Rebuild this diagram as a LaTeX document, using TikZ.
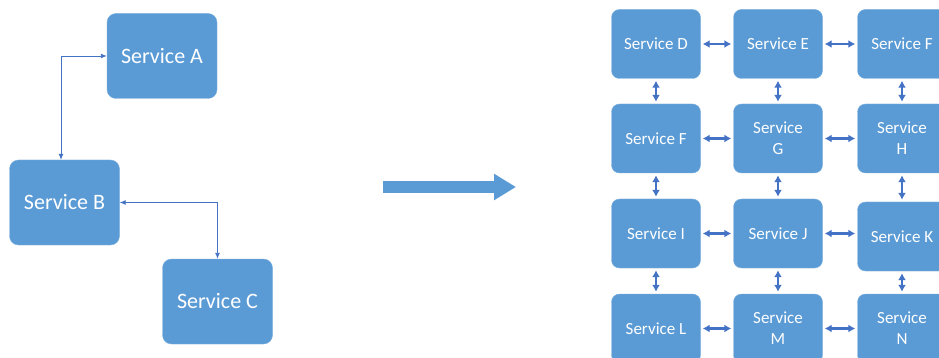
\documentclass[tikz,border=0pt]{standalone}
\usepackage{xcolor}
\usepackage{fontspec}
\setmainfont{Carlito}
\usepackage{tikz}
\usetikzlibrary{calc}
\usetikzlibrary{arrows}
\usetikzlibrary{arrows.meta}
\usetikzlibrary{positioning}
\definecolor{boxblue}{HTML}{5B9BD5}
\definecolor{linkblue}{HTML}{4472C4}
\tikzset{>=latex}
\tikzstyle{svc} = [rectangle, rounded corners=9pt, fill=boxblue, draw=boxblue!80!white, text=white, align=center, inner sep=0pt]
\tikzstyle{big} = [svc, minimum width=110pt, minimum height=85pt, font=\fontsize{22}{26}\selectfont]
\tikzstyle{small} = [svc, rounded corners=8pt, minimum width=89pt, minimum height=69pt, font=\fontsize{17}{21}\selectfont]
\tikzstyle{thin} = [{Latex[length=6pt,width=5pt]}-{Latex[length=6pt,width=5pt]}, draw=linkblue, line width=0.9pt]
\tikzstyle{thick} = [{Latex[length=7pt,width=8pt]}-{Latex[length=7pt,width=8pt]}, draw=linkblue, line width=2.4pt, shorten <=2pt, shorten >=2pt]

\begin{document}
\begin{tikzpicture}[x=1pt, y=-1pt]
\clip (0, 0) rectangle (939, 358);
\fill [white] (0, 0) rectangle (939, 358);
% before
\node [big] (A) at (162, 56) {Service A};
\node [big] (B) at (64.5, 202.5) {Service B};
\node [big] (C) at (217.5, 301.5) {Service C};
\draw [thin] ([xshift=-3.5pt]B.north) |- (A.west);
\draw [thin] (B.east) -| (C.north);
% migration
\coordinate (from) at (383, 187);
\coordinate (to) at (516, 187);
\draw [-{Triangle[length=22pt,width=25pt]}, line width=12pt, draw=boxblue] (from) -- (to);
% after
\node [small] (D) at (656, 44) {Service D};
\node [small] (E) at (778, 44) {Service E};
\node [small] (F) at (902, 44) {Service F};
\node [small] (F2) at (656, 138.5) {Service F};
\node [small] (G) at (778, 138.5) {Service\\G};
\node [small] (H) at (902, 138.5) {Service\\H};
\node [small] (I) at (656, 233.5) {Service I};
\node [small] (J) at (778, 233.5) {Service J};
\node [small] (K) at (902, 236.5) {Service K};
\node [small] (L) at (656, 328.5) {Service L};
\node [small] (M) at (778, 328.5) {Service\\M};
\node [small] (N) at (902, 328.5) {Service\\N};
\draw [thick] (D) -- (E);
\draw [thick] (E) -- (F);
\draw [thick] (F2) -- (G);
\draw [thick] (G) -- (H);
\draw [thick] (I) -- (J);
\draw [thick] (J.east) -- (J.east -| K.west);
\draw [thick] (L) -- (M);
\draw [thick] (M) -- (N);
\draw [thick] (D) -- (F2);
\draw [thick] (E) -- (G);
\draw [thick] (F) -- (H);
\draw [thick] (F2) -- (I);
\draw [thick] (G) -- (J);
\draw [thick] (H) -- (K);
\draw [thick] (I) -- (L);
\draw [thick] (J) -- (M);
\draw [thick] (K) -- (N);
\end{tikzpicture}
\end{document}
